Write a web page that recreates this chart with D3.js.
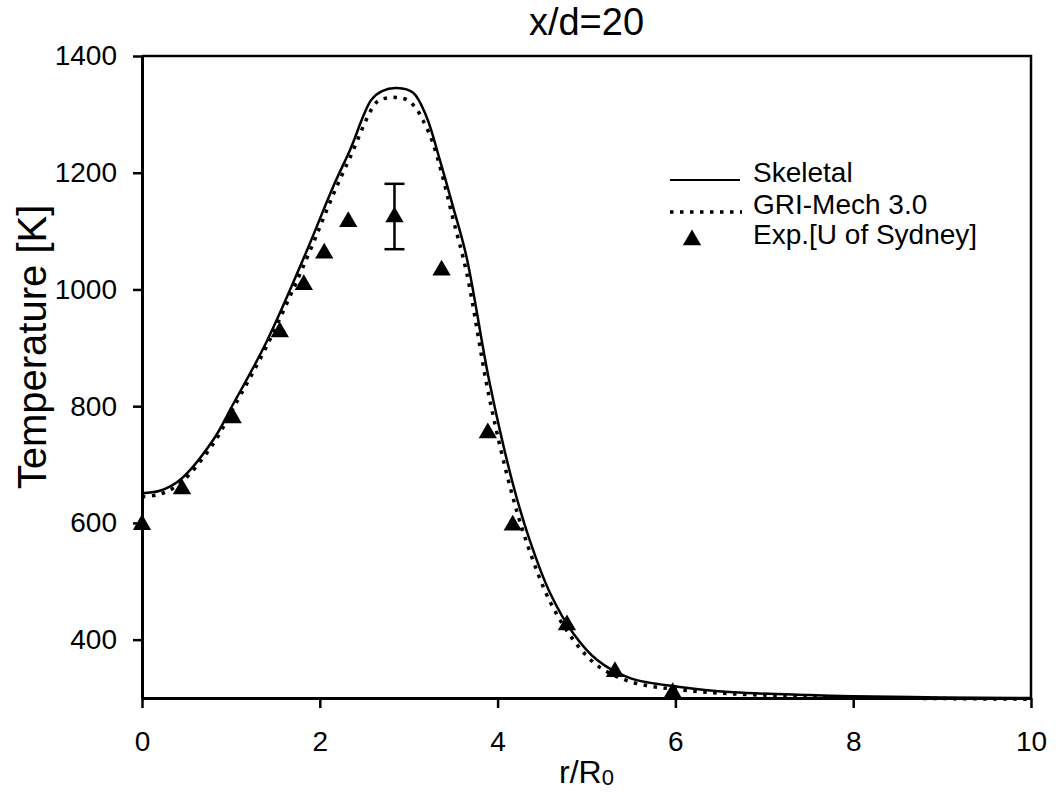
<!DOCTYPE html>
<html>
<head>
<meta charset="utf-8">
<script src="https://cdn.jsdelivr.net/npm/d3@7"></script>
<style>
  body { margin: 0; background: #fff; }
  text { font-family: "Liberation Sans", Arial, sans-serif; fill: #000; }
</style>
</head>
<body>
<div id="main"></div>
<script>
// --- data ---
const skelR = [0, 0.2, 0.43, 0.8, 1.02, 1.4, 1.85, 2.15, 2.34, 2.58, 2.7, 2.87, 3.05, 3.2, 3.35, 3.5, 3.65, 3.91, 4.17, 4.36, 4.59, 4.85, 5.12, 5.49, 6.05, 6.65, 7.5, 8, 9, 10];
const skelT = [651, 655, 674, 742, 802, 910, 1065, 1176, 1239, 1325, 1340, 1345, 1337, 1296, 1222, 1141, 1056, 840, 668, 571, 480, 411, 365, 334, 319, 310, 305, 303, 301, 300];

const griR = [0, 0.2, 0.43, 0.8, 1.02, 1.4, 1.85, 2.15, 2.34, 2.64, 2.75, 2.86, 2.98, 3.08, 3.16, 3.26, 3.37, 3.5, 3.65, 3.91, 4.17, 4.36, 4.59, 4.85, 5.12, 5.49, 6.05, 6.65, 7.5, 8, 9, 10];
const griT = [645, 649, 668, 735, 795, 902, 1052, 1162, 1226, 1321, 1328, 1329, 1325, 1311, 1290, 1256, 1200, 1120, 1030, 812, 645, 552, 465, 400, 356, 328, 314, 307, 303, 301, 299, 298];

const expR = [0, 0.45, 1.02, 1.55, 1.82, 2.05, 2.32, 2.84, 3.37, 3.89, 4.17, 4.78, 5.32, 5.97];
const expT = [597, 658, 780, 927, 1008, 1062, 1116, 1124, 1033, 754, 596, 425, 345, 309];
const errR = 2.84, errLo = 1069, errHi = 1181;

const xTicks = [0, 2, 4, 6, 8, 10];
const yTicks = [400, 600, 800, 1000, 1200, 1400];
const legendLabels = ["Skeletal", "GRI-Mech 3.0", "Exp.[U of Sydney]"];

// --- layout ---
const svgWidth = 1057, svgHeight = 793;
const padLeft = 142, padRight = 1031, padTop = 56, padBottom = 698;
const fontFam = '"Liberation Sans", Arial, sans-serif';

const svg = d3.select("#main").append("svg")
  .attr("width", svgWidth).attr("height", svgHeight);

const x = d3.scaleLinear().domain([0, 10]).range([padLeft, padRight]);
const y = d3.scaleLinear().domain([300, 1400]).range([padBottom, padTop]);

// frame (top + right)
svg.append("path")
  .attr("d", `M${padLeft},${padTop}H${padRight}V${padBottom}`)
  .attr("fill", "none").attr("stroke", "#000").attr("stroke-width", 2.5);

// axes
svg.append("g")
  .attr("transform", "translate(0," + padBottom + ")")
  .call(d3.axisBottom(x).tickValues(xTicks).tickSize(10).tickPadding(23).tickSizeOuter(0).tickFormat(d3.format("d")));

svg.append("g")
  .attr("transform", "translate(" + padLeft + ",0)")
  .call(d3.axisLeft(y).tickValues(yTicks).tickSize(9).tickPadding(16).tickSizeOuter(0).tickFormat(d3.format("d")));

svg.selectAll(".tick text").attr("font-family", fontFam).attr("font-size", 28);
svg.selectAll(".tick line").attr("stroke-width", 2.5);
svg.selectAll(".domain").attr("stroke-width", 3);

// lines
const line = d3.line().x(d => x(d[0])).y(d => y(d[1])).curve(d3.curveCatmullRom.alpha(0.5));

svg.append("path")
  .datum(skelR.map((r, i) => [r, skelT[i]]))
  .attr("d", line)
  .attr("fill", "none").attr("stroke", "#000").attr("stroke-width", 2.5);

svg.append("path")
  .datum(griR.map((r, i) => [r, griT[i]]))
  .attr("d", line)
  .attr("fill", "none").attr("stroke", "#000").attr("stroke-width", 3.5)
  .attr("stroke-dasharray", "3.5,6.5");

// error bar
const eb = svg.append("g").attr("stroke", "#000").attr("stroke-width", 2.5);
eb.append("line").attr("x1", x(errR)).attr("x2", x(errR)).attr("y1", y(errLo)).attr("y2", y(errHi));
eb.append("line").attr("x1", x(errR) - 10).attr("x2", x(errR) + 10).attr("y1", y(errLo)).attr("y2", y(errLo));
eb.append("line").attr("x1", x(errR) - 10).attr("x2", x(errR) + 10).attr("y1", y(errHi)).attr("y2", y(errHi));

// experimental points
const tri = d3.symbol().type(d3.symbolTriangle).size(145);
svg.append("g")
  .selectAll("path")
  .data(expR.map((r, i) => [r, expT[i]]))
  .enter()
  .append("path")
  .attr("d", tri)
  .attr("transform", d => "translate(" + x(d[0]) + "," + y(d[1]) + ")")
  .attr("fill", "#000");

// title and labels
svg.append("text")
  .attr("x", (padLeft + padRight) / 2).attr("y", 35)
  .attr("text-anchor", "middle").attr("font-size", 38)
  .text("x/d=20");

svg.append("text")
  .attr("transform", "rotate(-90)")
  .attr("x", -(padTop + padBottom) / 2 + 30).attr("y", 46)
  .attr("text-anchor", "middle").attr("font-size", 40)
  .text("Temperature [K]");

const xl = svg.append("text")
  .attr("x", (padLeft + padRight) / 2).attr("y", 783)
  .attr("text-anchor", "middle").attr("font-size", 32);
xl.append("tspan").text("r/R");
xl.append("tspan").attr("font-size", 22).attr("dy", 2).text("0");

// legend
const legX = 670, legY = [180, 212, 242];
svg.append("line")
  .attr("x1", legX).attr("x2", legX + 70).attr("y1", legY[0]).attr("y2", legY[0])
  .attr("stroke", "#000").attr("stroke-width", 2);
svg.append("line")
  .attr("x1", legX).attr("x2", legX + 72).attr("y1", legY[1]).attr("y2", legY[1])
  .attr("stroke", "#000").attr("stroke-width", 3.5).attr("stroke-dasharray", "3.5,6.5");
svg.append("path")
  .attr("d", tri)
  .attr("transform", "translate(" + (legX + 22) + "," + (legY[2] - 2) + ")")
  .attr("fill", "#000");

svg.append("g")
  .selectAll("text")
  .data(legendLabels)
  .enter()
  .append("text")
  .attr("x", 753)
  .attr("y", (d, i) => legY[i] - 5)
  .attr("dominant-baseline", "middle")
  .attr("font-size", 28)
  .text(d => d);
</script>
</body>
</html>
